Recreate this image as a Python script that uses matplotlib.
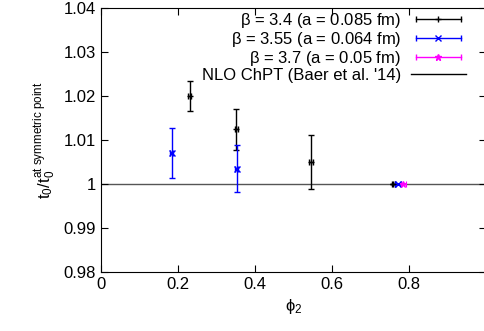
import matplotlib
matplotlib.use('Agg')
import matplotlib.pyplot as plt
from matplotlib.lines import Line2D
from matplotlib.legend_handler import HandlerLine2D, HandlerTuple

plt.rcParams['font.family'] = ['Liberation Sans', 'DejaVu Sans']
plt.rcParams['mathtext.fontset'] = 'custom'
plt.rcParams['mathtext.rm'] = 'Liberation Sans'
plt.rcParams['mathtext.it'] = 'Liberation Sans'

# beta = 3.4 (a = 0.085 fm)
phi_34 = [0.231, 0.351, 0.545, 0.759]
t_34 = [1.0200, 1.0124, 1.0051, 1.0000]
err_up_34 = [0.0035, 0.0046, 0.0061, 0.0]
err_dn_34 = [0.0033, 0.0047, 0.0062, 0.0]
xerr_34 = [0.004, 0.004, 0.005, 0.004]

# beta = 3.55 (a = 0.064 fm)
phi_355 = [0.184, 0.353, 0.771]
t_355 = [1.0070, 1.0035, 1.0000]
err_up_355 = [0.0057, 0.0054, 0.0]
err_dn_355 = [0.0056, 0.0054, 0.0]
xerr_355 = [0.004, 0.004, 0.008]

# beta = 3.7 (a = 0.05 fm)
phi_37 = [0.785]
t_37 = [1.0000]
err_37 = [0.0]
xerr_37 = [0.006]

labels = [r"$\beta$ = 3.4 (a = 0.085 fm)",
          r"$\beta$ = 3.55 (a = 0.064 fm)",
          r"$\beta$ = 3.7 (a = 0.05 fm)",
          "NLO ChPT (Baer et al. '14)"]
colors = ['black', 'blue', 'magenta']
markers = ['+', 'x', '*']

fig = plt.figure(figsize=(4.85, 3.31), dpi=100)
ax = fig.add_axes([101 / 485, 59 / 331, 385 / 485, 264 / 331])

ax.errorbar(phi_34, t_34, yerr=[err_dn_34, err_up_34], xerr=xerr_34,
            fmt='+', color='black', ms=4, mew=1, elinewidth=1, capsize=2)
ax.errorbar(phi_355, t_355, yerr=[err_dn_355, err_up_355], xerr=xerr_355,
            fmt='x', color='blue', ms=5, mew=1, elinewidth=1, capsize=2)
ax.errorbar(phi_37, t_37, yerr=err_37, xerr=xerr_37,
            fmt='*', color='magenta', ms=5, mew=0.8, elinewidth=1, capsize=2)
ax.axhline(1.0, color='#555555', lw=1, zorder=0)

ax.set_xlim(0, 1.0)
ax.set_ylim(0.98, 1.04)
ax.set_xticks([0, 0.2, 0.4, 0.6, 0.8])
ax.set_xticklabels(['0', '0.2', '0.4', '0.6', '0.8'])
ax.set_yticks([0.98, 0.99, 1.0, 1.01, 1.02, 1.03, 1.04])
ax.set_yticklabels(['0.98', '0.99', '1', '1.01', '1.02', '1.03', '1.04'])
ax.tick_params(direction='in', top=True, right=True, length=5, labelsize=12)

ax.set_xlabel(r"$\phi_2$", fontsize=12)
ax.set_ylabel(r"t$_0$/t$_0^{\mathrm{at\ symmetric\ point}}$", fontsize=12)

# gnuplot-style legend keys: horizontal bar with end caps and point in the middle
handles = []
hmap = {}
for c, m in zip(colors, markers):
    bar = Line2D([], [], color=c, lw=1, marker='|', ms=5, mew=1)
    pt = Line2D([], [], color=c, lw=0, marker=m, ms=5 if m != '+' else 4, mew=1)
    hmap[bar] = HandlerLine2D(numpoints=2)
    hmap[pt] = HandlerLine2D(numpoints=1)
    handles.append((bar, pt))
handles.append(Line2D([], [], color='black', lw=1))
hmap[tuple] = HandlerTuple(ndivide=1, pad=0)

leg = ax.legend(handles, labels, handler_map=hmap,
                loc='upper right', bbox_to_anchor=(466 / 485, 1 - 11 / 331),
                bbox_transform=fig.transFigure, frameon=False, markerfirst=False,
                fontsize=12, handlelength=3.3, handletextpad=0.6,
                labelspacing=0.0, borderpad=0, borderaxespad=0)

fig.savefig('out.png', dpi=100)
